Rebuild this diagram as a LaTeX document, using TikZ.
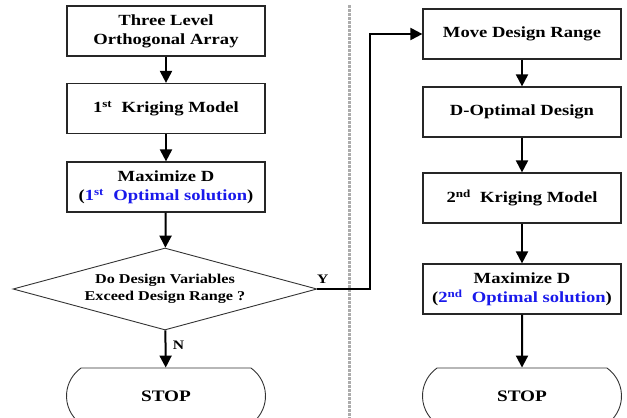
\documentclass[tikz,border=0pt]{standalone}
\usepackage{fontspec}
\setmainfont{Liberation Serif}[FakeStretch=1.2]
\usetikzlibrary{shapes.geometric,shapes.misc,arrows.meta}
\definecolor{optblue}{RGB}{25,25,235}

\begin{document}
\begin{tikzpicture}[x=1pt,y=-1pt,
	box/.style={draw=black!85,line width=1.2pt,minimum width=198pt,minimum height=50pt,inner sep=0pt,align=center,font=\bfseries\fontsize{15.5}{19}\selectfont},
	decision/.style={diamond,aspect=3.7,draw=black!80,line width=0.9pt,minimum width=304pt,minimum height=82pt,inner sep=0pt,align=center,font=\bfseries\fontsize{13.5}{17}\selectfont},
	stopbox/.style={rounded rectangle,rounded rectangle arc length=110,draw=black!80,line width=0.9pt,minimum width=199pt,minimum height=56pt,inner sep=0pt,font=\bfseries\fontsize{16}{19}\selectfont},
	flow/.style={line width=2pt,-{Triangle[length=12pt,width=12pt]}},
	tag/.style={font=\bfseries\fontsize{13}{15}\selectfont}]
	\useasboundingbox (0,0) rectangle (627,418);
	\clip (0,0) rectangle (627,418);
	% divider
	\draw [gray!65,line width=3pt,dash pattern=on 2.5pt off 1.5pt] (349,5) -- (349,418);
	% left column
	\node [box] (oa) at (166,31) {Three Level\\Orthogonal Array};
	\node [box] (krig1) at (166,108.5) {1\textsuperscript{st}\ \ Kriging Model};
	\node [box] (max1) at (166,187) {Maximize D\\(\textcolor{optblue}{1\textsuperscript{st}\ \ Optimal solution})};
	\node [decision] (exceed) at (165,289) {Do Design Variables\\Exceed Design Range ?};
	\node [stopbox] (stop1) at (166,396) {STOP};
	% right column
	\node [box] (move) at (522,34) {Move Design Range};
	\node [box] (dopt) at (522,112) {D-Optimal Design};
	\node [box] (krig2) at (522,198) {2\textsuperscript{nd}\ \ Kriging Model};
	\node [box] (max2) at (522,289) {Maximize D\\(\textcolor{optblue}{2\textsuperscript{nd}\ \ Optimal solution})};
	\node [stopbox] (stop2) at (522,396) {STOP};
	% connectors
	\draw [flow] (oa) -- (krig1);
	\draw [flow] (krig1) -- (max1);
	\draw [flow] (max1) -- (exceed);
	\draw [flow] (exceed) -- node [tag,pos=.4,right=3pt] {N} (stop1);
	\draw [flow] (exceed.east) -- node [tag,pos=.1,above=1pt] {Y} ++(53,0) |- (move.west);
	\draw [flow] (move) -- (dopt);
	\draw [flow] (dopt) -- (krig2);
	\draw [flow] (krig2) -- (max2);
	\draw [flow] (max2) -- (stop2);
\end{tikzpicture}
\end{document}
